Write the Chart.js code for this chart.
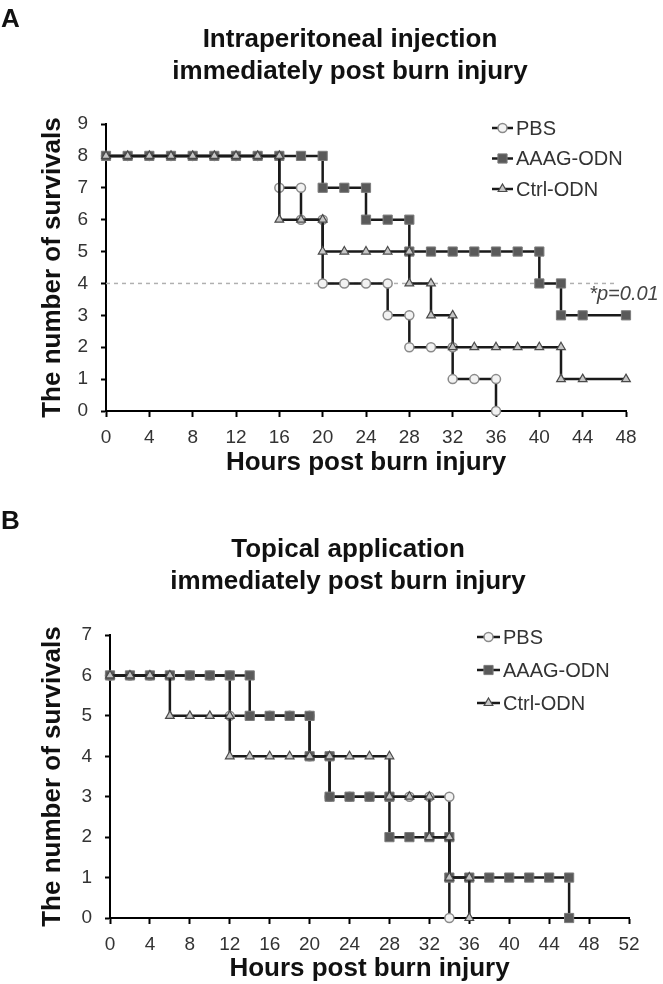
<!DOCTYPE html>
<html>
<head>
<meta charset="utf-8">
<title>Survival after burn injury</title>
<script src="https://cdn.jsdelivr.net/npm/chart.js@4.4.0/dist/chart.umd.min.js"></script>
<style>
    body { margin: 0; background: #fff; }
    #wrap { position: relative; width: 663px; height: 984px; overflow: hidden; }
    #wrap canvas { position: absolute; left: 0; }
    .panel-label { position: absolute; left: 1px; font: bold 26px Arial, "Liberation Sans", sans-serif; color: #111; line-height: 30px; }
</style>
</head>
<body>
<div id="wrap">
    <canvas id="chartA" width="663" height="492" style="top:0"></canvas>
    <canvas id="chartB" width="663" height="492" style="top:492px"></canvas>
    <div class="panel-label" style="top:3px">A</div>
    <div class="panel-label" style="top:505px">B</div>
</div>
<script>
// Panel A - intraperitoneal injection (hours, number of survivals)
const hoursA_PBS = [0, 2, 4, 6, 8, 10, 12, 14, 16, 16, 18, 18, 20, 20, 22, 24, 26, 26, 28, 28, 30, 32, 32, 34, 36, 36];
const survA_PBS = [8, 8, 8, 8, 8, 8, 8, 8, 8, 7, 7, 6, 6, 4, 4, 4, 4, 3, 3, 2, 2, 2, 1, 1, 1, 0];
const hoursA_AAAG = [0, 2, 4, 6, 8, 10, 12, 14, 16, 18, 20, 20, 22, 24, 24, 26, 28, 28, 30, 32, 34, 36, 38, 40, 40, 42, 42, 44, 48];
const survA_AAAG = [8, 8, 8, 8, 8, 8, 8, 8, 8, 8, 8, 7, 7, 7, 6, 6, 6, 5, 5, 5, 5, 5, 5, 5, 4, 4, 3, 3, 3];
const hoursA_Ctrl = [0, 2, 4, 6, 8, 10, 12, 14, 16, 16, 18, 20, 20, 22, 24, 26, 28, 28, 30, 30, 32, 32, 34, 36, 38, 40, 42, 42, 44, 48];
const survA_Ctrl = [8, 8, 8, 8, 8, 8, 8, 8, 8, 6, 6, 6, 5, 5, 5, 5, 5, 4, 4, 3, 3, 2, 2, 2, 2, 2, 2, 1, 1, 1];
// dashed reference line at 4 survivals
const refHoursA = [0, 47];
const refSurvA = [4, 4];
const xTicksA = [0, 4, 8, 12, 16, 20, 24, 28, 32, 36, 40, 44, 48];
const yTicksA = [0, 1, 2, 3, 4, 5, 6, 7, 8, 9];

// Panel B - topical application
const hoursB_PBS = [0, 2, 4, 6, 8, 10, 12, 12, 14, 16, 18, 20, 20, 22, 22, 24, 26, 28, 30, 32, 34, 34];
const survB_PBS = [6, 6, 6, 6, 6, 6, 6, 5, 5, 5, 5, 5, 4, 4, 3, 3, 3, 3, 3, 3, 3, 0];
const hoursB_AAAG = [0, 2, 4, 6, 8, 10, 12, 14, 14, 16, 18, 20, 20, 22, 22, 24, 26, 28, 28, 30, 32, 34, 34, 36, 38, 40, 42, 44, 46, 46];
const survB_AAAG = [6, 6, 6, 6, 6, 6, 6, 6, 5, 5, 5, 5, 4, 4, 3, 3, 3, 3, 2, 2, 2, 2, 1, 1, 1, 1, 1, 1, 1, 0];
const hoursB_Ctrl = [0, 2, 4, 6, 6, 8, 10, 12, 12, 14, 16, 18, 20, 22, 24, 26, 28, 28, 30, 32, 32, 34, 34, 36, 36];
const survB_Ctrl = [6, 6, 6, 6, 5, 5, 5, 5, 4, 4, 4, 4, 4, 4, 4, 4, 4, 3, 3, 3, 2, 2, 1, 1, 0];
const xTicksB = [0, 4, 8, 12, 16, 20, 24, 28, 32, 36, 40, 44, 48, 52];
const yTicksB = [0, 1, 2, 3, 4, 5, 6, 7];

const seriesNames = ['PBS', 'AAAG-ODN', 'Ctrl-ODN'];

const FONT = 'Arial, "Liberation Sans", sans-serif';
const LINE = '#1a1a1a';

function pts(xs, ys) {
    return xs.map((x, i) => ({ x: x, y: ys[i] }));
}

// marker styles
const styles = {
    'PBS': { pointStyle: 'circle', pointRadius: 4.5, pointBackgroundColor: '#f2f2f2', pointBorderColor: '#8a8a8a', pointBorderWidth: 1.5, order: 3 },
    'AAAG-ODN': { pointStyle: 'rect', pointRadius: 6.5, pointBackgroundColor: '#5a5a5a', pointBorderColor: '#7c7c7c', pointBorderWidth: 1, order: 2 },
    'Ctrl-ODN': { pointStyle: 'triangle', pointRadius: 5, pointBackgroundColor: '#c6c6c6', pointBorderColor: '#4a4a4a', pointBorderWidth: 1.2, order: 1 }
};

function makeDataset(name, xs, ys) {
    const s = styles[name];
    return Object.assign({
        label: name,
        data: pts(xs, ys),
        borderColor: LINE,
        borderWidth: 2.5,
        pointHoverRadius: s.pointRadius,
        tension: 0,
        fill: false,
        clip: false
    }, s);
}

function drawMarker(ctx, s, x, y) {
    const r = s.pointRadius;
    ctx.fillStyle = s.pointBackgroundColor;
    ctx.strokeStyle = s.pointBorderColor;
    ctx.lineWidth = s.pointBorderWidth;
    ctx.beginPath();
    if (s.pointStyle === 'circle') {
        ctx.arc(x, y, r, 0, Math.PI * 2);
    } else if (s.pointStyle === 'rect') {
        const h = r * Math.SQRT1_2;
        ctx.rect(x - h, y - h, 2 * h, 2 * h);
    } else {
        let a = 0;
        ctx.moveTo(x + Math.sin(a) * r, y - Math.cos(a) * r);
        a += Math.PI * 2 / 3;
        ctx.lineTo(x + Math.sin(a) * r, y - Math.cos(a) * r);
        a += Math.PI * 2 / 3;
        ctx.lineTo(x + Math.sin(a) * r, y - Math.cos(a) * r);
        ctx.closePath();
    }
    ctx.fill();
    ctx.stroke();
}

// legend at the top right, line + marker + name
const sideLegend = {
    id: 'sideLegend',
    afterDraw(chart, args, opts) {
        const ctx = chart.ctx;
        ctx.save();
        seriesNames.forEach((name, i) => {
            const y = opts.y + i * opts.gap;
            ctx.strokeStyle = LINE;
            ctx.lineWidth = 2.5;
            ctx.beginPath();
            ctx.moveTo(opts.x, y);
            ctx.lineTo(opts.x + opts.len, y);
            ctx.stroke();
            drawMarker(ctx, styles[name], opts.x + opts.len / 2, y);
            ctx.fillStyle = '#333';
            ctx.font = '20px ' + FONT;
            ctx.textBaseline = 'middle';
            ctx.textAlign = 'left';
            ctx.fillText(name, opts.x + opts.len + 3, y + 1);
        });
        ctx.restore();
    }
};

// two-line bold title above each panel
const panelTitle = {
    id: 'panelTitle',
    afterDraw(chart, args, opts) {
        const ctx = chart.ctx;
        ctx.save();
        ctx.fillStyle = '#111';
        ctx.font = 'bold 26px ' + FONT;
        ctx.textAlign = 'center';
        ctx.textBaseline = 'middle';
        opts.lines.forEach((t, i) => ctx.fillText(t, opts.x, opts.y + i * 32));
        ctx.restore();
    }
};

// p value note next to the dashed line
const pNote = {
    id: 'pNote',
    afterDatasetsDraw(chart, args, opts) {
        if (!opts.text) return;
        const ctx = chart.ctx;
        const x = chart.scales.x.getPixelForValue(opts.atX);
        const y = chart.scales.y.getPixelForValue(opts.atY) + 11;
        ctx.save();
        ctx.fillStyle = '#444';
        ctx.font = 'italic 20px ' + FONT;
        ctx.textBaseline = 'middle';
        ctx.fillText(opts.text, x, y);
        ctx.restore();
    }
};

function makeChart(canvasId, cfg) {
    const ctx = document.getElementById(canvasId).getContext('2d');
    return new Chart(ctx, {
        type: 'line',
        data: { datasets: cfg.datasets },
        options: {
            responsive: false,
            animation: false,
            events: [],
            layout: { padding: { top: cfg.top, left: 0, right: cfg.right, bottom: 0 } },
            plugins: {
                legend: { display: false },
                tooltip: { enabled: false },
                title: { display: false },
                sideLegend: cfg.legend,
                panelTitle: cfg.title,
                pNote: cfg.note || {}
            },
            scales: {
                x: {
                    type: 'linear',
                    min: cfg.xTicks[0],
                    max: cfg.xTicks[cfg.xTicks.length - 1],
                    afterBuildTicks: s => { s.ticks = cfg.xTicks.map(v => ({ value: v })); },
                    afterFit: s => { s.height = cfg.xHeight; },
                    border: { display: true, color: '#000', width: 2 },
                    grid: { display: true, drawOnChartArea: false, drawTicks: true, tickLength: 6, tickColor: '#000', tickWidth: 2 },
                    ticks: { color: '#333', font: { family: FONT, size: 19 }, padding: 9, maxRotation: 0, autoSkip: false },
                    title: {
                        display: true,
                        text: 'Hours post burn injury',
                        color: '#111',
                        font: { family: FONT, size: 26, weight: 'bold', lineHeight: 1.2 },
                        padding: { top: 0, bottom: cfg.xTitlePad }
                    }
                },
                y: {
                    type: 'linear',
                    min: cfg.yTicks[0],
                    max: cfg.yTicks[cfg.yTicks.length - 1],
                    afterBuildTicks: s => { s.ticks = cfg.yTicks.map(v => ({ value: v })); },
                    afterFit: s => { s.width = cfg.yWidth; },
                    border: { display: true, color: '#000', width: 2 },
                    grid: { display: true, drawOnChartArea: false, drawTicks: true, tickLength: 5, tickColor: '#000', tickWidth: 2 },
                    ticks: { color: '#333', font: { family: FONT, size: 19 }, padding: 13 },
                    title: {
                        display: true,
                        text: 'The number of survivals',
                        color: '#111',
                        font: { family: FONT, size: 26, weight: 'bold', lineHeight: 1.2 },
                        padding: { top: 37, bottom: 0 }
                    }
                }
            }
        },
        plugins: [sideLegend, panelTitle, pNote]
    });
}

const refLineA = {
    label: 'ref',
    data: pts(refHoursA, refSurvA),
    borderColor: '#b0b0b0',
    borderWidth: 1.5,
    borderDash: [4, 4],
    pointRadius: 0,
    fill: false,
    order: 10
};

makeChart('chartA', {
    datasets: [
        makeDataset('PBS', hoursA_PBS, survA_PBS),
        makeDataset('AAAG-ODN', hoursA_AAAG, survA_AAAG),
        makeDataset('Ctrl-ODN', hoursA_Ctrl, survA_Ctrl),
        refLineA
    ],
    xTicks: xTicksA,
    yTicks: yTicksA,
    top: 124,
    right: 37,
    xHeight: 81,
    yWidth: 106,
    xTitlePad: 14,
    title: { x: 350, y: 40, lines: ['Intraperitoneal injection', 'immediately post burn injury'] },
    legend: { x: 492, y: 128, gap: 30.5, len: 21 },
    note: { text: '*p=0.01', atX: 44.6, atY: 4 }
});

makeChart('chartB', {
    datasets: [
        makeDataset('PBS', hoursB_PBS, survB_PBS),
        makeDataset('AAAG-ODN', hoursB_AAAG, survB_AAAG),
        makeDataset('Ctrl-ODN', hoursB_Ctrl, survB_Ctrl)
    ],
    xTicks: xTicksB,
    yTicks: yTicksB,
    top: 143,
    right: 34,
    xHeight: 66,
    yWidth: 110,
    xTitlePad: 0,
    title: { x: 348, y: 58, lines: ['Topical application', 'immediately post burn injury'] },
    legend: { x: 477, y: 145, gap: 33, len: 23 }
});
</script>
</body>
</html>
